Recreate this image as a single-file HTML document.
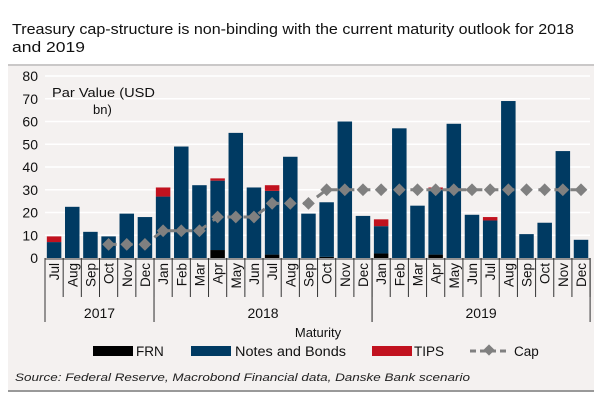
<!DOCTYPE html>
<html><head><meta charset="utf-8"><style>
body{margin:0;background:#fff;font-family:"Liberation Sans",sans-serif}
</style></head><body>
<svg width="600" height="400" xmlns="http://www.w3.org/2000/svg">
<rect x="0" y="0" width="600" height="400" fill="#fff"/>
<rect x="8" y="64" width="586" height="326" fill="#f4f1f0"/>
<line x1="8" y1="65" x2="594" y2="65" stroke="#bbb" stroke-width="1.5"/>
<line x1="8" y1="391" x2="594" y2="391" stroke="#999" stroke-width="2"/>
<text x="12" y="34" font-size="15" fill="#111" textLength="562" lengthAdjust="spacingAndGlyphs">Treasury cap-structure is non-binding with the current maturity outlook for 2018</text>
<text x="12" y="52" font-size="15" fill="#111" textLength="73" lengthAdjust="spacingAndGlyphs">and 2019</text>
<g id="grid"></g><g id="bars"></g><g id="cap"></g><g id="xaxis"></g>
<text x="52" y="97" font-size="13" fill="#111" textLength="103" lengthAdjust="spacingAndGlyphs">Par Value (USD</text>
<text x="93" y="114" font-size="13" fill="#111">bn)</text>
<text x="318" y="337" font-size="13" text-anchor="middle" fill="#111">Maturity</text>
<g font-size="13.5" fill="#111">
<rect x="93" y="346" width="40" height="10" fill="#000"/>
<text x="136" y="356">FRN</text>
<rect x="191" y="346" width="40" height="10" fill="#003a62"/>
<text x="235" y="356" textLength="111" lengthAdjust="spacingAndGlyphs">Notes and Bonds</text>
<rect x="372" y="346" width="40" height="10" fill="#c1121f"/>
<text x="414" y="356">TIPS</text>
<line x1="470" y1="351" x2="510" y2="351" stroke="#808080" stroke-width="3" stroke-dasharray="6,4"/>
<rect x="485" y="346" width="8" height="8" fill="#808080" transform="rotate(45 489 350)"/>
<text x="514" y="356">Cap</text>
</g>
<text x="15" y="381" font-size="11" font-style="italic" fill="#222" textLength="455" lengthAdjust="spacingAndGlyphs">Source: Federal Reserve, Macrobond Financial data, Danske Bank scenario</text>
</svg>
<script>
const months=["Jul","Aug","Sep","Oct","Nov","Dec","Jan","Feb","Mar","Apr","May","Jun","Jul","Aug","Sep","Oct","Nov","Dec","Jan","Feb","Mar","Apr","May","Jun","Jul","Aug","Sep","Oct","Nov","Dec"];
const years=["2017","2018","2019"];
const yearStart=[0,6,18];
const yearLen=[6,12,12];
const frn=[0,0,0,0,0,0,0,0,0,3.5,0,0,1.5,0,0,0.5,0,0,2,0,0,1.5,0,0,0,0,0,0,0,0];
const notes=[7,22.5,11.5,9.5,19.5,18,27,49,32,30.5,55,31,28,44.5,19.5,24,60,18.5,12,57,23,28.5,59,19,16.5,69,10.5,15.5,47,8];
const tips=[2.5,0,0,0,0,0,4,0,0,1,0,0,2.5,0,0,0,0,0,3,0,0,1,0,0,1.5,0,0,0,0,0];
const cap=[null,null,null,6,6,6,12,12,12,18,18,18,24,24,24,30,30,30,30,30,30,30,30,30,30,30,30,30,30,30];
const yTicks=[0,10,20,30,40,50,60,70,80];
const NS="http://www.w3.org/2000/svg";
const y0=258,y1=76,x0=45,pitch=18.17;
const Y=v=>y0-(v/80)*(y0-y1);
const X=i=>x0+pitch*(i+0.5);
function mk(t,a,p){const e=document.createElementNS(NS,t);for(const k in a)e.setAttribute(k,a[k]);p.appendChild(e);return e;}
const grid=document.getElementById('grid');
yTicks.forEach(v=>{
 if(v>0){const l=mk('line',{x1:x0,x2:590,y1:Y(v),y2:Y(v),stroke:'#fff','stroke-width':1.5},grid);
 
 }
 const t=mk('text',{x:38,y:Y(v)+5,'font-size':14,'text-anchor':'end',fill:'#111'},grid);t.textContent=v;
 
 
});
const bars=document.getElementById('bars');const bw=14.5;
months.forEach((m,i)=>{
 let base=0;
 [[frn[i],'#000','frn'],[notes[i],'#003a62','notes'],[tips[i],'#c1121f','tips']].forEach(([v,c,n])=>{
  if(v>0){const r=mk('rect',{x:X(i)-bw/2,y:Y(base+v),width:bw,height:Y(base)-Y(base+v),fill:c},bars);
  
  }
  base+=v;
 });
});
const capG=document.getElementById('cap');
let d='';cap.forEach((v,i)=>{if(v!==null)d+=(d?'L':'M')+X(i)+' '+Y(v);});
const pl=mk('path',{d:d,fill:'none',stroke:'#808080','stroke-width':3,'stroke-dasharray':'8,8'},capG);


cap.forEach((v,i)=>{if(v===null)return;
 const r=mk('rect',{x:X(i)-4.5,y:Y(v)-4.5,width:9,height:9,fill:'#808080',transform:`rotate(45 ${X(i)} ${Y(v)})`},capG);
 
 
});
const xa=document.getElementById('xaxis');
mk('line',{x1:x0,x2:590,y1:y0+1,y2:y0+1,stroke:'#333','stroke-width':1},xa);
months.forEach((m,i)=>{
 mk('line',{x1:x0+pitch*i,x2:x0+pitch*i,y1:y0,y2:297,stroke:'#333','stroke-width':1},xa);
 const t=mk('text',{x:0,y:0,'font-size':13.5,'text-anchor':'end',fill:'#111',transform:`translate(${X(i)+5} ${y0+5}) rotate(-90)`},xa);
 t.textContent=m;
 
 
});
mk('line',{x1:x0+pitch*30,x2:x0+pitch*30,y1:y0,y2:297,stroke:'#333'},xa);
years.forEach((yr,k)=>{
 const a=x0+pitch*yearStart[k],b=x0+pitch*(yearStart[k]+yearLen[k]);
 mk('line',{x1:a,x2:a,y1:y0,y2:322,stroke:'#333'},xa);
 mk('line',{x1:b,x2:b,y1:y0,y2:322,stroke:'#333'},xa);
 const t=mk('text',{x:(a+b)/2,y:318,'font-size':14,'text-anchor':'middle',fill:'#111'},xa);t.textContent=yr;
 
 
});
</script>
</body></html>
